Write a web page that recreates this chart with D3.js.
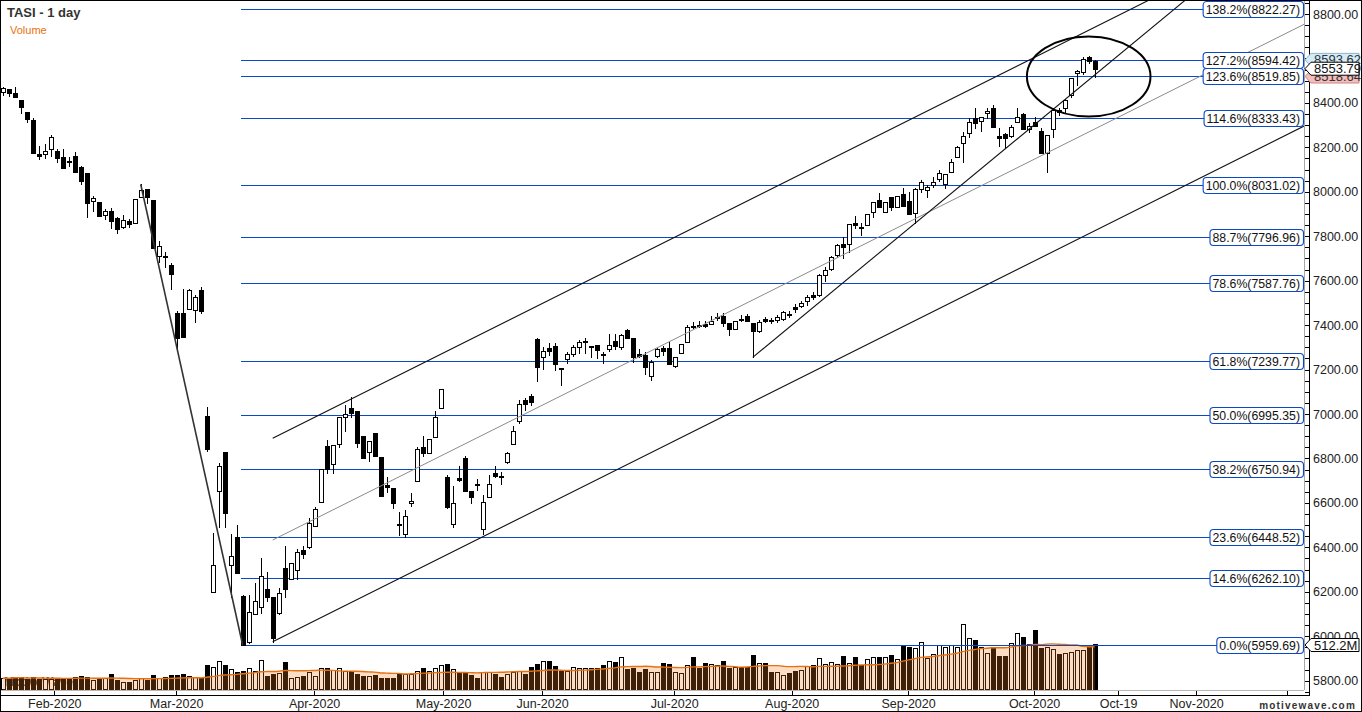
<!DOCTYPE html>
<html><head><meta charset="utf-8">
<script src="https://cdn.jsdelivr.net/npm/d3@7/dist/d3.min.js"></script>
<style>
html,body{margin:0;padding:0;background:#fff;overflow:hidden;}
svg{display:block;font-family:"Liberation Sans",Arial,sans-serif;}
</style></head><body>
<svg id="chart" width="1362" height="712"></svg>
<script>
// ---------------- DATA ----------------
const opens = [8448,8461,8443,8413,8358,8323,8170,8171,8191,8184,8157,8139,8160,8110,8083,7957,7953,7894,7912,7883,
7843,7867,7861,7975,8013,7963,7712,7712,7670,7455,7455,7474,7469,7558,6991,6198,6652,6829,6319,6446,
6181,5975,6099,6133,6213,6177,6103,6306,6256,6297,6387,6400,6495,6603,6856,6774,6864,6988,7027,7013,
6900,6827,6913,6805,6680,6666,6505,6460,6598,6700,6850,6823,6898,7026,6715,6504,6712,6802,6654,6685,
6484,6625,6733,6722,6783,6865,6969,7063,7081,7336,7258,7296,7306,7205,7246,7269,7300,7322,7307,7309,
7269,7291,7329,7303,7378,7343,7270,7266,7171,7261,7298,7296,7216,7273,7325,7396,7401,7405,7405,7430,
7441,7408,7383,7428,7443,7411,7375,7426,7423,7423,7426,7450,7480,7487,7509,7534,7534,7624,7653,7714,
7765,7765,7861,7843,7849,7910,7963,7908,7975,7930,7989,7958,7903,8013,8008,8031,8056,8034,8088,8155,
8218,8266,8331,8320,8356,8376,8251,8259,8251,8313,8349,8281,8315,8273,8176,8281,8368,8376,8436,8536,
8540,8605,8589];
const highs = [8473,8461,8473,8413,8358,8331,8206,8215,8256,8191,8193,8155,8179,8115,8083,7981,7953,7923,7926,7888,
7896,7876,7966,8034,8013,7963,7779,7729,7681,7465,7562,7562,7536,7571,7033,6463,6778,6829,6460,6500,
6185,6185,6241,6351,6290,6177,6215,6406,6328,6391,6406,6531,6580,6751,6883,6859,6985,7041,7078,7013,
6900,6877,6913,6805,6718,6666,6559,6568,6643,6850,6901,6887,7013,7111,6726,6676,6766,6811,6654,6706,
6636,6724,6767,6740,6831,6946,7063,7071,7090,7341,7303,7321,7321,7205,7280,7309,7333,7343,7307,7309,
7280,7359,7360,7360,7383,7343,7291,7280,7243,7296,7307,7325,7258,7314,7401,7415,7420,7419,7441,7453,
7453,7408,7419,7446,7450,7411,7425,7435,7432,7446,7462,7462,7495,7510,7536,7550,7630,7663,7713,7765,
7798,7854,7891,7861,7899,7955,7996,7953,7978,7982,8018,7998,8015,8053,8031,8065,8098,8079,8148,8205,
8268,8331,8376,8338,8376,8391,8286,8263,8300,8376,8356,8308,8338,8288,8254,8376,8376,8419,8513,8548,
8605,8611,8593.62];
const lows = [8436,8431,8425,8353,8315,8176,8149,8153,8162,8135,8108,8117,8090,8034,7888,7915,7892,7876,7838,7816,
7838,7843,7861,7975,7951,7746,7685,7663,7561,7296,7348,7474,7415,7456,6835,6198,6493,6493,6178,6286,
5960,5968,6099,6106,6160,5975,6099,6175,6256,6257,6354,6395,6495,6603,6736,6733,6853,6925,6988,6850,
6803,6790,6812,6632,6650,6575,6455,6445,6587,6700,6812,6823,6898,7026,6575,6493,6700,6655,6601,6658,
6460,6625,6718,6684,6780,6865,6961,7018,7040,7150,7201,7266,7198,7130,7231,7260,7273,7276,7255,7251,
7228,7284,7291,7291,7343,7235,7255,7180,7153,7255,7266,7224,7213,7273,7325,7385,7393,7393,7405,7423,
7397,7355,7383,7420,7420,7255,7370,7413,7408,7415,7423,7438,7460,7483,7491,7516,7530,7600,7648,7708,
7701,7730,7836,7806,7849,7888,7933,7908,7918,7930,7937,7899,7858,7998,7975,8023,8050,8018,8088,8155,
8135,8248,8286,8275,8331,8290,8206,8198,8248,8313,8281,8270,8296,8176,8090,8248,8346,8353,8428,8480,
8530,8578,8518.64];
const closes = [8466,8443,8425,8383,8326,8176,8162,8183,8245,8153,8108,8133,8090,8050,7951,7972,7892,7912,7870,7834,
7872,7856,7966,8008,7978,7746,7756,7705,7629,7343,7348,7558,7527,7465,6842,6320,6765,6553,6359,6286,
5960,6109,6159,6271,6175,5991,6193,6211,6328,6378,6371,6508,6571,6751,6752,6859,6985,7000,7006,6868,
6803,6877,6812,6632,6673,6601,6499,6542,6607,6843,6826,6887,6985,7111,6583,6598,6703,6655,6628,6679,
6603,6685,6721,6716,6825,6924,7045,7045,7053,7213,7285,7285,7224,7202,7270,7300,7325,7328,7303,7288,
7266,7311,7306,7355,7343,7258,7262,7213,7233,7291,7285,7224,7255,7314,7390,7390,7396,7396,7417,7435,
7408,7381,7419,7423,7420,7375,7415,7420,7420,7438,7458,7446,7473,7501,7528,7528,7624,7647,7708,7759,
7753,7854,7850,7838,7899,7955,7933,7953,7933,7982,7937,7899,8011,8043,8023,8046,8086,8079,8133,8200,
8252,8315,8308,8335,8362,8290,8241,8241,8290,8335,8281,8296,8296,8176,8254,8368,8360,8413,8511,8545,
8596,8590,8553.79];
// volume in millions
const volumes = [131,131,149,142,120,142,127,127,120,127,120,127,142,157,142,112,123,131,179,112,
90,93,112,131,112,164,135,142,164,164,179,157,149,138,280,262,325,280,232,202,
213,243,213,333,157,179,194,314,138,142,157,202,157,243,243,224,243,213,213,179,
157,157,168,131,131,131,179,179,179,213,243,213,250,280,288,232,205,205,168,138,
205,205,179,149,179,205,217,179,254,291,325,325,269,213,213,254,243,243,243,243,
280,325,314,366,235,243,198,232,205,198,299,291,198,187,277,366,247,299,288,280,
321,247,254,254,262,392,299,299,205,205,168,187,213,224,273,280,355,291,310,291,
381,299,374,280,344,374,374,374,392,344,504,478,467,534,355,400,504,478,504,486,
740,579,560,486,418,486,381,381,523,635,590,512,673,467,486,456,404,418,430,448,
448,504,512.2];
const volumeMAPeriod = 20;

const monthTickIndex = [8.6, 28.9, 51.9, 73.4, 89.9, 111.9, 131.5, 150.9, 171.9, 185.9, 198.9, 214];
const monthTickLabels = ["Feb-2020","Mar-2020","Apr-2020","May-2020","Jun-2020","Jul-2020","Aug-2020","Sep-2020","Oct-2020","Oct-19","Nov-2020",""];

const priceTicks = d3.range(5800, 8801, 200);
const priceMinorTicks = d3.range(5750, 8851, 50);

const fibPercents = ["0.0%","14.6%","23.6%","38.2%","50.0%","61.8%","78.6%","88.7%","100.0%","114.6%","123.6%","127.2%","138.2%"];
const fibValues = [5959.69,6262.10,6448.52,6750.94,6995.35,7239.77,7587.76,7796.96,8031.02,8333.43,8519.85,8594.42,8822.27];
const fibStartIndex = 39.7;

// drawn studies, in [bar index, price]
const trendLines = [
  {pts:[[23, 8034],[40, 5959.69]], color:"#333", width:1.6},
  {pts:[[45, 6891],[216.9, 9211.6]], color:"#111", width:1.1},
  {pts:[[45, 6433],[216.9, 8753.6]], color:"#8a8a8a", width:1},
  {pts:[[45, 5975],[216.9, 8295.6]], color:"#111", width:1.1},
  {pts:[[125, 7255],[216.9, 9304]], color:"#111", width:1.1}
];
const ellipseCenter = [181, 8519];
const ellipseRadii = [10.3, 180]; // bars, price points

const lastHigh = 8593.62, lastClose = 8553.79, lastLow = 8518.64, lastVolumeLabel = "512.2M";

// ---------------- CHART ----------------
const W = 1362, H = 712;
const plotRight = 1304, plotBottom = 690;
const svg = d3.select("#chart");

const x = d3.scaleLinear().domain([0, 182]).range([2.7, 1094.7]);
const y = d3.scaleLinear().domain([5800, 8800]).range([680.7, 14]);
const yv = d3.scaleLinear().domain([0, 512.2]).range([plotBottom, 644.3]);

svg.append("rect").attr("width", W).attr("height", H).attr("fill", "#fff");

const defs = svg.append("defs");
defs.append("clipPath").attr("id", "plotClip").append("rect")
  .attr("x", 0).attr("y", 0).attr("width", plotRight).attr("height", plotBottom);

const plot = svg.append("g").attr("clip-path", "url(#plotClip)");

// watermark
plot.append("text").attr("x", 4).attr("y", 686).attr("font-size", 12).attr("font-weight", "bold")
  .attr("fill", "#444").text("MotiveWave");

const n = closes.length;
const idx = d3.range(n);
const cx = i => Math.round(x(i));

// volume bars
plot.append("g").attr("shape-rendering", "crispEdges").selectAll("rect").data(idx).join("rect")
  .attr("x", i => cx(i) - 2 + 0.5)
  .attr("y", i => Math.round(yv(volumes[i])) + 0.5)
  .attr("width", 4)
  .attr("height", i => Math.max(1, plotBottom - Math.round(yv(volumes[i])) - 1))
  .attr("fill", i => closes[i] >= opens[i] ? "#fff" : "#000")
  .attr("stroke", "#000").attr("stroke-width", 1);

// volume moving average
const ma = idx.map(i => {
  const s = Math.max(0, i - volumeMAPeriod + 1);
  return d3.mean(volumes.slice(s, i + 1));
});
plot.append("path").datum(idx)
  .attr("d", d3.area().x(i => x(i)).y0(plotBottom).y1(i => yv(ma[i])).curve(d3.curveMonotoneX))
  .attr("fill", "rgba(240,120,30,0.26)");
plot.append("path").datum(idx)
  .attr("d", d3.line().x(i => x(i)).y(i => yv(ma[i])).curve(d3.curveMonotoneX))
  .attr("fill", "none").attr("stroke", "#e8700e").attr("stroke-width", 1.4);

// fib lines
const fibColor = "#0a48c8";
plot.append("g").attr("shape-rendering", "crispEdges").selectAll("line").data(fibValues).join("line")
  .attr("x1", x(fibStartIndex)).attr("x2", plotRight)
  .attr("y1", v => Math.round(y(v)) + 0.5).attr("y2", v => Math.round(y(v)) + 0.5)
  .attr("stroke", fibColor).attr("stroke-width", 1);

// candles
const cg = plot.append("g").attr("shape-rendering", "crispEdges");
cg.selectAll("line").data(idx).join("line")
  .attr("x1", i => cx(i) + 0.5).attr("x2", i => cx(i) + 0.5)
  .attr("y1", i => Math.round(y(Math.max(highs[i], opens[i], closes[i]))))
  .attr("y2", i => Math.round(y(Math.min(lows[i], opens[i], closes[i]))) + 1)
  .attr("stroke", "#000").attr("stroke-width", 1);
cg.selectAll("rect").data(idx).join("rect")
  .attr("x", i => cx(i) - 2 + 0.5)
  .attr("y", i => Math.round(y(Math.max(opens[i], closes[i]))) + 0.5)
  .attr("width", 4)
  .attr("height", i => Math.max(1, Math.round(y(Math.min(opens[i], closes[i]))) - Math.round(y(Math.max(opens[i], closes[i])))))
  .attr("fill", i => closes[i] >= opens[i] ? "#fff" : "#000")
  .attr("stroke", "#000").attr("stroke-width", 1);

// trend lines
plot.append("g").selectAll("line").data(trendLines).join("line")
  .attr("x1", d => x(d.pts[0][0])).attr("y1", d => y(d.pts[0][1]))
  .attr("x2", d => x(d.pts[1][0])).attr("y2", d => y(d.pts[1][1]))
  .attr("stroke", d => d.color).attr("stroke-width", d => d.width);

// ellipse
plot.append("ellipse")
  .attr("cx", x(ellipseCenter[0])).attr("cy", y(ellipseCenter[1]))
  .attr("rx", x(ellipseRadii[0]) - x(0))
  .attr("ry", y(ellipseCenter[1] - ellipseRadii[1]) - y(ellipseCenter[1]))
  .attr("fill", "none").attr("stroke", "#000").attr("stroke-width", 2);

// ---------------- AXES ----------------
// bottom axis
const xAxis = d3.axisBottom(x).tickValues(monthTickIndex)
  .tickFormat((d, i) => monthTickLabels[i]).tickSize(5).tickSizeOuter(0).tickPadding(4);
const xg = svg.append("g").attr("transform", `translate(0,${plotBottom})`).call(xAxis);
xg.select(".domain").remove();
xg.selectAll(".tick line").attr("stroke", "#000").attr("shape-rendering", "crispEdges");
xg.selectAll(".tick text").attr("font-size", 12.5).attr("fill", "#222")
  .attr("font-family", "'Liberation Sans',Arial,sans-serif");

svg.append("line").attr("x1", 0).attr("x2", plotRight).attr("y1", plotBottom + 0.5).attr("y2", plotBottom + 0.5)
  .attr("stroke", "#b8b8b8").attr("shape-rendering", "crispEdges");
svg.append("line").attr("x1", 0).attr("x2", 1310).attr("y1", 695.5).attr("y2", 695.5)
  .attr("stroke", "#000").attr("shape-rendering", "crispEdges");

// right axis
const yMinor = d3.axisRight(y).tickValues(priceMinorTicks).tickFormat("").tickSize(4).tickSizeOuter(0);
const ymg = svg.append("g").attr("transform", `translate(${plotRight + 1},0)`).call(yMinor);
ymg.select(".domain").remove();
ymg.selectAll(".tick line").attr("stroke", "#000").attr("shape-rendering", "crispEdges");

const yAxis = d3.axisRight(y).tickValues(priceTicks).tickFormat(d3.format(".2f")).tickSize(4).tickSizeOuter(0).tickPadding(4);
const yg = svg.append("g").attr("transform", `translate(${plotRight + 1},0)`).call(yAxis);
yg.select(".domain").remove();
yg.selectAll(".tick line").attr("stroke", "#000").attr("shape-rendering", "crispEdges");
yg.selectAll(".tick text").attr("font-size", 12.5).attr("fill", "#222")
  .attr("font-family", "'Liberation Sans',Arial,sans-serif");

svg.append("line").attr("x1", plotRight + 0.5).attr("x2", plotRight + 0.5).attr("y1", 0).attr("y2", plotBottom)
  .attr("stroke", "#a8a8a8").attr("shape-rendering", "crispEdges");
svg.append("line").attr("x1", plotRight + 5.5).attr("x2", plotRight + 5.5).attr("y1", 0).attr("y2", 696)
  .attr("stroke", "#000").attr("shape-rendering", "crispEdges");

// fib labels
const fl = svg.append("g");
fibValues.forEach((v, i) => {
  const g = fl.append("g");
  const yy = Math.round(y(v)) + 0.5;
  const rect = g.append("rect");
  const t = g.append("text").attr("y", yy + 4.3).attr("font-size", 12.3).attr("fill", "#111")
    .text(`${fibPercents[i]}(${v.toFixed(2)})`);
  const w = t.node().getComputedTextLength();
  const right = plotRight - 1;
  t.attr("x", right - 3 - w);
  rect.attr("x", right - w - 6 + 0.5).attr("y", yy - 8).attr("width", w + 6).attr("height", 16)
    .attr("rx", 3.5).attr("fill", "#fff").attr("stroke", fibColor).attr("stroke-width", 1.1);
});

// pointer labels on price axis
function pointer(val, yy, fill, stroke, textColor) {
  const left = plotRight + 1, h = 13;
  const g = svg.append("g");
  g.append("path")
    .attr("d", `M${left},${yy} L${left + 6},${yy - h / 2} L${1359},${yy - h / 2} L${1359},${yy + h / 2} L${left + 6},${yy + h / 2} Z`)
    .attr("fill", fill).attr("stroke", stroke).attr("stroke-width", 1);
  g.append("text").attr("x", left + 9).attr("y", yy + 4.5).attr("font-size", 13).attr("fill", textColor).text(val);
}
pointer(lastHigh.toFixed(2), y(lastHigh), "#d4ecf8", "#8ab4cc", "#333");
pointer(lastLow.toFixed(2), y(lastLow), "#f4bcbc", "#c88", "#333");
pointer(lastClose.toFixed(2), y(lastClose), "#fff", "#000", "#111");
pointer(lastVolumeLabel, yv(volumes[n - 1]) + 0.7, "#fff", "#000", "#111");

// titles
svg.append("text").attr("x", 7).attr("y", 17).attr("font-size", 13).attr("font-weight", "bold")
  .attr("fill", "#333").text("TASI - 1 day");
svg.append("text").attr("x", 10).attr("y", 34).attr("font-size", 11).attr("fill", "#e8700e").text("Volume");
svg.append("text").attr("x", 1356).attr("y", 709).attr("text-anchor", "end").attr("font-size", 10)
  .attr("font-weight", "bold").attr("letter-spacing", 1.2).attr("fill", "#333").text("motivewave.com");

// frame
svg.append("rect").attr("x", 0.5).attr("y", 0.5).attr("width", W - 1).attr("height", H - 1)
  .attr("fill", "none").attr("stroke", "#000").attr("shape-rendering", "crispEdges");
</script>
</body></html>
